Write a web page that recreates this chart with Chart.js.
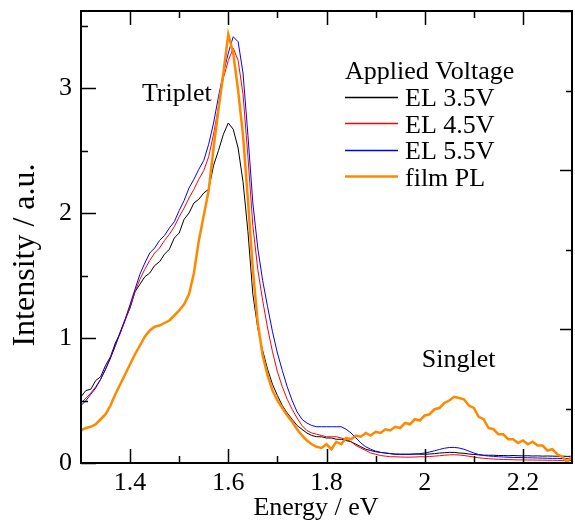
<!DOCTYPE html>
<html>
<head>
<meta charset="utf-8">
<script src="https://cdn.jsdelivr.net/npm/chart.js@4.4.1/dist/chart.umd.min.js"></script>
<style>
  html, body { margin: 0; padding: 0; background: #fff; }
</style>
</head>
<body>
<canvas id="plChart" width="575" height="523"></canvas>
<script>
// photon energy (eV)
const energy = [
  1.30, 1.31, 1.32, 1.33, 1.34, 1.35, 1.36, 1.37, 1.38, 1.39,
  1.40, 1.41, 1.42, 1.43, 1.44, 1.45, 1.46, 1.47, 1.48, 1.49,
  1.50, 1.51, 1.52, 1.53, 1.54, 1.55, 1.56, 1.57, 1.58, 1.59,
  1.60, 1.61, 1.62, 1.63, 1.64, 1.65, 1.66, 1.67, 1.68, 1.69,
  1.70, 1.71, 1.72, 1.73, 1.74, 1.75, 1.76, 1.77, 1.78, 1.79,
  1.80, 1.81, 1.82, 1.83, 1.84, 1.85, 1.86, 1.87, 1.88, 1.89,
  1.90, 1.91, 1.92, 1.93, 1.94, 1.95, 1.96, 1.97, 1.98, 1.99,
  2.00, 2.01, 2.02, 2.03, 2.04, 2.05, 2.06, 2.07, 2.08, 2.09,
  2.10, 2.11, 2.12, 2.13, 2.14, 2.15, 2.16, 2.17, 2.18, 2.19,
  2.20, 2.21, 2.22, 2.23, 2.24, 2.25, 2.26, 2.27, 2.28, 2.29,
  2.30
];

// EL 3.5V
const el35 = [
  0.53, 0.58, 0.59, 0.66, 0.69, 0.78, 0.85, 0.96, 1.04, 1.15,
  1.24, 1.37, 1.43, 1.49, 1.52, 1.58, 1.61, 1.67, 1.71, 1.80,
  1.84, 1.95, 2.00, 2.08, 2.11, 2.16, 2.19, 2.38, 2.50, 2.63,
  2.72, 2.67, 2.52, 2.25, 1.85, 1.35, 1.08, 0.90, 0.75, 0.63,
  0.54, 0.46, 0.40, 0.35, 0.30, 0.27, 0.24, 0.22, 0.21, 0.21,
  0.20, 0.20, 0.19, 0.19, 0.18, 0.17, 0.15, 0.13, 0.11, 0.10,
  0.09, 0.085, 0.08, 0.075, 0.07, 0.07, 0.07, 0.07, 0.072, 0.07,
  0.07, 0.072, 0.075, 0.08, 0.082, 0.085, 0.085, 0.08, 0.078, 0.072,
  0.068, 0.065, 0.063, 0.062, 0.062, 0.06, 0.06, 0.058, 0.06, 0.058,
  0.057, 0.058, 0.056, 0.057, 0.055, 0.056, 0.055, 0.054, 0.055, 0.053,
  0.054
];

// EL 4.5V
const el45 = [
  0.48, 0.52, 0.56, 0.61, 0.67, 0.75, 0.84, 0.94, 1.04, 1.14,
  1.25, 1.37, 1.47, 1.55, 1.62, 1.68, 1.72, 1.78, 1.83, 1.89,
  1.97, 2.04, 2.12, 2.19, 2.27, 2.34, 2.45, 2.63, 2.85, 3.08,
  3.22, 3.32, 3.22, 2.95, 2.45, 1.90, 1.55, 1.30, 1.08, 0.89,
  0.73, 0.61, 0.51, 0.43, 0.36, 0.30, 0.26, 0.24, 0.23, 0.22,
  0.21, 0.21, 0.21, 0.20, 0.19, 0.17, 0.14, 0.12, 0.10, 0.08,
  0.07, 0.06, 0.055, 0.05, 0.05, 0.048, 0.047, 0.047, 0.048, 0.05,
  0.05, 0.052, 0.055, 0.058, 0.062, 0.065, 0.066, 0.064, 0.06, 0.054,
  0.048, 0.042, 0.038, 0.034, 0.032, 0.03, 0.028, 0.027, 0.026, 0.025,
  0.025, 0.024, 0.024, 0.023, 0.023, 0.022, 0.022, 0.021, 0.021, 0.02,
  0.02
];

// EL 5.5V
const el55 = [
  0.46, 0.50, 0.55, 0.60, 0.67, 0.75, 0.84, 0.94, 1.05, 1.15,
  1.27, 1.39, 1.51, 1.60, 1.68, 1.72, 1.78, 1.82, 1.88, 1.93,
  2.02, 2.10, 2.20, 2.27, 2.35, 2.42, 2.55, 2.72, 2.93, 3.12,
  3.28, 3.41, 3.37, 3.12, 2.62, 2.08, 1.72, 1.46, 1.25, 1.05,
  0.88, 0.74, 0.61, 0.50, 0.41, 0.35, 0.32, 0.30, 0.29, 0.29,
  0.29, 0.29, 0.29, 0.29, 0.27, 0.24, 0.20, 0.16, 0.13, 0.11,
  0.095, 0.085, 0.08, 0.075, 0.072, 0.07, 0.07, 0.07, 0.072, 0.075,
  0.08, 0.088, 0.098, 0.108, 0.118, 0.124, 0.125, 0.12, 0.11, 0.095,
  0.08, 0.068, 0.06, 0.056, 0.053, 0.05, 0.048, 0.046, 0.045, 0.044,
  0.043, 0.042, 0.041, 0.04, 0.039, 0.038, 0.037, 0.037, 0.036, 0.035,
  0.035
];

// film PL
const filmPL = [
  0.26, 0.28, 0.29, 0.31, 0.35, 0.39, 0.46, 0.55, 0.63, 0.71,
  0.79, 0.87, 0.94, 1.01, 1.06, 1.09, 1.10, 1.12, 1.14, 1.18,
  1.22, 1.27, 1.35, 1.52, 1.78, 1.98, 2.18, 2.52, 2.83, 3.12,
  3.43, 3.28, 2.98, 2.62, 2.10, 1.55, 1.12, 0.86, 0.70, 0.58,
  0.50, 0.44, 0.38, 0.33, 0.27, 0.22, 0.18, 0.15, 0.13, 0.12,
  0.15, 0.11, 0.17, 0.15, 0.20, 0.19, 0.22, 0.21, 0.24, 0.22,
  0.25, 0.24, 0.27, 0.26, 0.29, 0.28, 0.32, 0.31, 0.35, 0.34,
  0.38, 0.39, 0.43, 0.44, 0.48, 0.50, 0.53, 0.52, 0.51, 0.46,
  0.44, 0.37, 0.35, 0.28, 0.27, 0.23, 0.23, 0.19, 0.19, 0.16,
  0.18, 0.15, 0.17, 0.14, 0.14, 0.10, 0.11, 0.07, 0.05, 0.01,
  0.05
];

const seriesLabels = ['EL 3.5V', 'EL 4.5V', 'EL 5.5V', 'film PL'];
const legendTitle = 'Applied Voltage';
const xTicks = [1.4, 1.6, 1.8, 2, 2.2];
const xTickLabels = ['1.4', '1.6', '1.8', '2', '2.2'];
const xMinorTicks = [1.5, 1.7, 1.9, 2.1];
const yTicks = [0, 1, 2, 3];
const yTickLabels = ['0', '1', '2', '3'];
const yMinorTicks = [0.5, 1.5, 2.5, 3.5];
const rightTicks = [1, 2, 3];
const rightMinorTicks = [0.5, 1.5, 2.5];
const peakNotes = [
  { text: 'Triplet', x: 1.424, y: 2.9 },
  { text: 'Singlet', x: 1.994, y: 0.77 }
];

const serif = "'Liberation Serif', 'Times New Roman', serif";
Chart.defaults.font.family = serif;
Chart.defaults.color = '#000';

function pairs(ys) {
  return energy.map((e, i) => ({ x: e, y: ys[i] }));
}

// frame, inward ticks, axis titles, notes and legend
const decorPlugin = {
  id: 'decor',
  afterDatasetsDraw(chart) {
    const { ctx, chartArea: a, scales } = chart;
    const x = scales.x, y = scales.y, y2 = scales.y2;
    ctx.save();
    ctx.strokeStyle = '#000';
    ctx.lineWidth = 2;
    ctx.strokeRect(a.left, a.top, a.right - a.left, a.bottom - a.top);

    ctx.lineWidth = 1.5;
    ctx.beginPath();
    const tickX = (vals, len) => vals.forEach(v => {
      const px = Math.round(x.getPixelForValue(v)) + 0.5;
      ctx.moveTo(px, a.bottom); ctx.lineTo(px, a.bottom - len);
      ctx.moveTo(px, a.top); ctx.lineTo(px, a.top + len);
    });
    tickX(xTicks, 14);
    tickX(xMinorTicks, 7);
    const tickY = (vals, len) => vals.forEach(v => {
      const py = Math.round(y.getPixelForValue(v)) + 0.5;
      ctx.moveTo(a.left, py); ctx.lineTo(a.left + len, py);
    });
    tickY(yTicks, 15);
    tickY(yMinorTicks, 7);
    const tickR = (vals, len) => vals.forEach(v => {
      const py = Math.round(y2.getPixelForValue(v)) + 0.5;
      ctx.moveTo(a.right, py); ctx.lineTo(a.right - len, py);
    });
    tickR(rightTicks, 12);
    tickR(rightMinorTicks, 6);
    ctx.stroke();

    ctx.fillStyle = '#000';
    ctx.font = '26px ' + serif;
    ctx.textBaseline = 'alphabetic';
    ctx.textAlign = 'center';
    ctx.fillText('Energy / eV', 316, 515);

    ctx.save();
    ctx.translate(26, 255);
    ctx.rotate(-Math.PI / 2);
    ctx.font = '32px ' + serif;
    ctx.textBaseline = 'middle';
    ctx.fillText('Intensity / a.u.', 0, 0);
    ctx.restore();

    ctx.font = '26px ' + serif;
    ctx.textAlign = 'left';
    peakNotes.forEach(n => {
      ctx.fillText(n.text, x.getPixelForValue(n.x), y.getPixelForValue(n.y));
    });

    // legend
    ctx.fillText(legendTitle, 345, 79);
    chart.data.datasets.forEach((ds, i) => {
      const base = 106 + i * 26.5;
      const ly = Math.round(base - 9.5) + 0.5;
      ctx.strokeStyle = ds.borderColor;
      ctx.lineWidth = ds.borderWidth === 1 ? 1.3 : ds.borderWidth;
      ctx.beginPath();
      ctx.moveTo(345, ly);
      ctx.lineTo(398, ly);
      ctx.stroke();
      ctx.fillText(ds.label, 405, base);
    });
    ctx.restore();
  }
};

const ctx = document.getElementById('plChart').getContext('2d');
new Chart(ctx, {
  type: 'line',
  data: {
    datasets: [
      { label: seriesLabels[0], data: pairs(el35), borderColor: '#000000', borderWidth: 1, order: 4 },
      { label: seriesLabels[1], data: pairs(el45), borderColor: '#ff0000', borderWidth: 1, order: 3 },
      { label: seriesLabels[2], data: pairs(el55), borderColor: '#0000ff', borderWidth: 1, order: 2 },
      { label: seriesLabels[3], data: pairs(filmPL), borderColor: '#ff8800', borderWidth: 2.5, order: 1 }
    ]
  },
  options: {
    responsive: false,
    animation: false,
    elements: { point: { radius: 0 }, line: { tension: 0 } },
    layout: { padding: { top: 11, right: 3, left: 0, bottom: 0 } },
    plugins: { legend: { display: false }, tooltip: { enabled: false } },
    scales: {
      x: {
        type: 'linear',
        min: 1.3,
        max: 2.3,
        afterFit: s => { s.height = 60; s.paddingLeft = 0; s.paddingRight = 0; },
        afterBuildTicks: s => { s.ticks = xTicks.map(v => ({ value: v })); },
        grid: { display: false, drawTicks: false },
        border: { display: false },
        ticks: {
          font: { family: serif, size: 26 },
          color: '#000',
          padding: 5,
          maxRotation: 0,
          autoSkip: false,
          callback: (v, i) => xTickLabels[i]
        }
      },
      y: {
        type: 'linear',
        min: 0,
        max: 3.616,
        afterFit: s => { s.width = 81; s.paddingTop = 0; s.paddingBottom = 0; },
        afterBuildTicks: s => { s.ticks = yTicks.map(v => ({ value: v })); },
        grid: { display: false, drawTicks: false },
        border: { display: false },
        ticks: {
          font: { family: serif, size: 26 },
          color: '#000',
          padding: 9,
          autoSkip: false,
          callback: (v, i) => yTickLabels[i]
        }
      },
      y2: {
        type: 'linear',
        position: 'right',
        display: false,
        min: 0.16,
        max: 3.0
      }
    }
  },
  plugins: [decorPlugin]
});
</script>
</body>
</html>
